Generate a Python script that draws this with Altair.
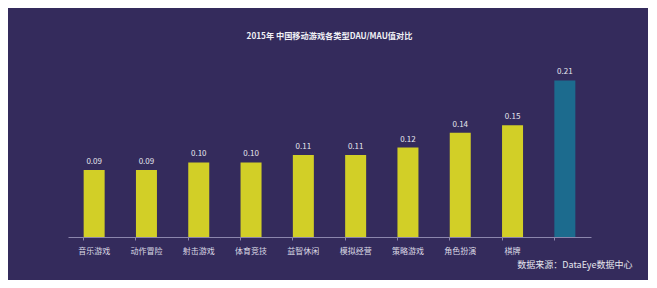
import altair as alt
import pandas as pd

categories = ["音乐游戏", "动作冒险", "射击游戏", "体育竞技", "益智休闲",
              "模拟经营", "策略游戏", "角色扮演", "棋牌", "卡牌"]
values = [0.09, 0.09, 0.10, 0.10, 0.11, 0.11, 0.12, 0.14, 0.15, 0.21]
groups = ["常规"] * 9 + ["突出"]
title_text = "2015年 中国移动游戏各类型DAU/MAU值对比"
source_text = "数据来源：DataEye数据中心"

df = pd.DataFrame({"cat": categories, "val": values, "grp": groups})
df["lbl"] = df["val"].map(lambda v: f"{v:.2f}")

BG = "#342b5c"
FONT = "Noto Sans CJK SC"

x = alt.X("cat:N", sort=categories,
          scale=alt.Scale(paddingInner=0.6, paddingOuter=0.3),
          axis=alt.Axis(title=source_text, titleAnchor="end", titleAlign="right",
                        titleX=564, titleY=27, titleBaseline="middle",
                        titleFontSize=9, titleFontWeight="normal", titleColor="#e6e6ee",
                        titleFont=FONT,
                        labelExpr="datum.value == '卡牌' ? '' : datum.value",
                        labelAngle=0, labelFontSize=8, labelColor="#dcdbe6", labelFont=FONT,
                        labelPadding=7,
                        domainColor="#8c86ad", domainWidth=1,
                        tickColor="#8c86ad", tickSize=3, bandPosition=0))
y = alt.Y("val:Q", scale=alt.Scale(domain=[0, 0.22], nice=False), axis=None)

bars = alt.Chart(df).mark_bar(size=21).encode(
    x=x, y=y,
    color=alt.Color("grp:N", scale=alt.Scale(domain=["常规", "突出"],
                                             range=["#d2cf27", "#1c6b8e"]), legend=None),
)
labels = alt.Chart(df).mark_text(dy=-8, fontSize=8, color="#e6e6ee", font=FONT).encode(
    x=alt.X("cat:N", sort=categories), y=y, text="lbl:N"
)

chart = (bars + labels).properties(
    width=523, height=164,
    title=alt.TitleParams(title_text, fontSize=8.2, fontWeight="bold", color="#f0f0f5",
                          font=FONT, anchor="middle", offset=27),
    padding={"left": 60, "top": 65, "right": 57, "bottom": 43},
    autosize=alt.AutoSizeParams(type="none"),
    background=BG,
).configure_view(stroke=None)

chart.save("out.html", embed_options={"renderer": "svg", "actions": False})
